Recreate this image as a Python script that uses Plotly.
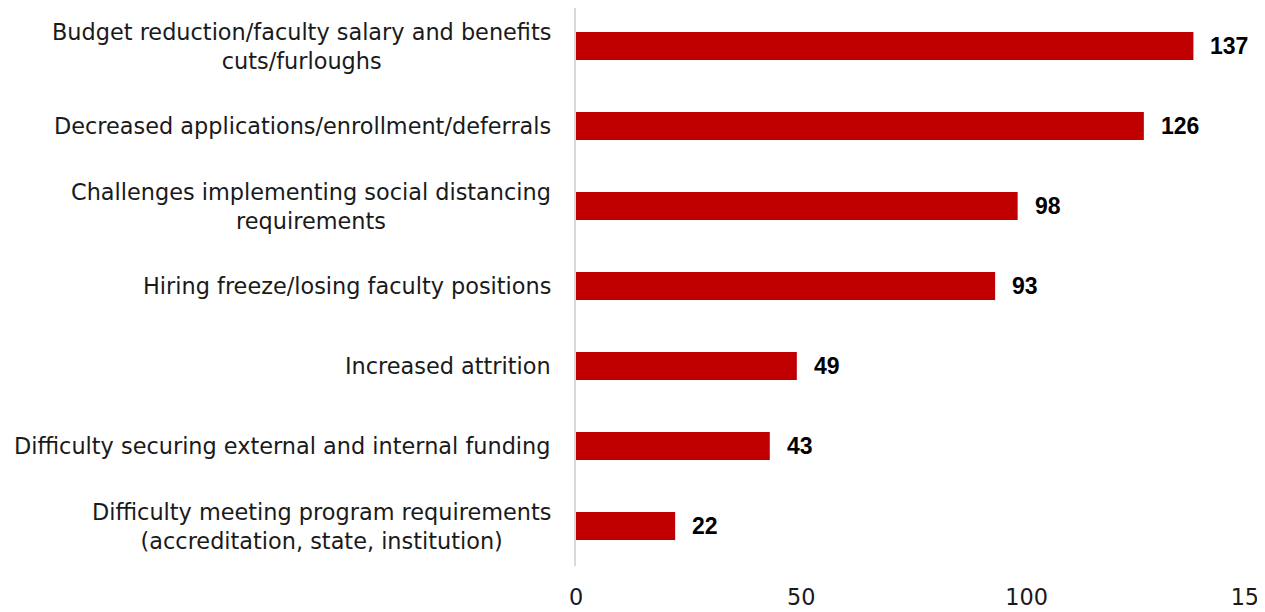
import plotly.graph_objects as go

categories = [
    "Budget reduction/faculty salary and benefits<br>cuts/furloughs",
    "Decreased applications/enrollment/deferrals",
    "Challenges implementing social distancing<br>requirements",
    "Hiring freeze/losing faculty positions",
    "Increased attrition",
    "Difficulty securing external and internal funding",
    "Difficulty meeting program requirements<br>(accreditation, state, institution)",
]
values = [137, 126, 98, 93, 49, 43, 22]
x_ticks = [0, 50, 100, 150]

FONT = "DejaVu Sans"
VALFONT = "Liberation Sans"
BAR = "#c00000"

fig = go.Figure(go.Bar(
    x=values, y=list(range(len(categories))), orientation="h",
    marker=dict(color=BAR, line=dict(width=0)),
    hoverinfo="skip",
))

annotations = []
for i, (c, v) in enumerate(zip(categories, values)):
    annotations.append(dict(
        x=v, y=i, xref="x", yref="y", text=f"<b>{v}</b>", showarrow=False,
        xanchor="left", xshift=15, font=dict(family=VALFONT, size=23, color="#000000"),
    ))
    annotations.append(dict(
        x=0, y=i, xref="paper", yref="y", text=c, showarrow=False,
        xanchor="right", xshift=-23, align="center",
        font=dict(family=FONT, size=22.4, color="#1a1a1a"),
    ))

fig.update_layout(
    width=1265, height=612,
    margin=dict(l=568, r=16, t=0, b=54),
    paper_bgcolor="white", plot_bgcolor="white",
    bargap=0.65, showlegend=False,
    annotations=annotations,
    xaxis=dict(range=[0, 150], tickvals=x_ticks, showgrid=False, zeroline=False,
               showline=False, ticks="", ticklabelstandoff=16,
               ticklabeloverflow="allow",
               tickfont=dict(family=FONT, size=22.4, color="#1a1a1a")),
    yaxis=dict(range=[6.5, -0.475], showticklabels=False, showgrid=False,
               zeroline=False, showline=True, linecolor="#d9d9d9", linewidth=2,
               ticks=""),
)

fig.write_html("out.html")
